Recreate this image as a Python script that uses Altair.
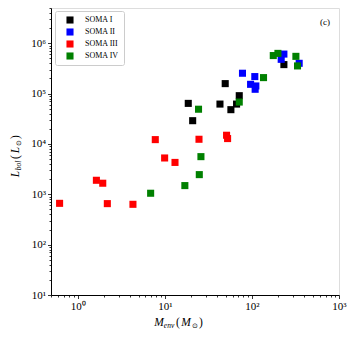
import altair as alt
import pandas as pd

# ---- data ----
soma1_x = [18.6, 20.9, 49.4, 43.0, 57.4, 66.7, 71.6, 233]
soma1_y = [6.4e4, 2.9e4, 1.58e5, 6.2e4, 4.8e4, 6.2e4, 9.1e4, 3.77e5]
soma2_x = [78, 108, 96.6, 111, 109, 217, 233, 349]
soma2_y = [2.54e5, 2.18e5, 1.53e5, 1.42e5, 1.22e5, 4.8e5, 6.1e5, 4.0e5]
soma3_x = [0.62, 1.64, 1.94, 2.19, 4.31, 7.78, 9.96, 13.1, 24.7, 51.2, 52.6]
soma3_y = [662, 1900, 1660, 653, 633, 1.22e4, 5270, 4300, 1.24e4, 1.49e4, 1.28e4]
soma4_x = [6.88, 17.0, 24.9, 26.0, 24.4, 71.6, 136, 176, 199, 320, 334]
soma4_y = [1050, 1490, 2460, 5600, 4.9e4, 6.8e4, 2.08e5, 5.7e5, 6.3e5, 5.5e5, 3.55e5]

groups = ["SOMA I", "SOMA II", "SOMA III", "SOMA IV"]
colors = ["#000000", "#0000ff", "#ff0000", "#008000"]

x_major = [1, 10, 100, 1000]
x_minor = [0.5, 0.6, 0.7, 0.8, 0.9] + [m * d for d in (1, 10, 100) for m in range(2, 10)]
y_major = [10, 100, 1000, 1e4, 1e5, 1e6]
y_minor = [m * d for d in (10, 100, 1000, 1e4, 1e5) for m in range(2, 10)] + [2e6, 3e6, 4e6, 5e6]

rows = []
for g, xs, ys in zip(groups, [soma1_x, soma2_x, soma3_x, soma4_x], [soma1_y, soma2_y, soma3_y, soma4_y]):
    for a, b in zip(xs, ys):
        rows.append({"group": g, "Menv": a, "Lbol": b})
df = pd.DataFrame(rows)
df["order"] = df["group"].map({g: i for i, g in enumerate(groups)})

W, H = 288, 287
SERIF = "Liberation Serif"

is_major = "abs(log(datum.value)/LN10 - round(log(datum.value)/LN10)) < 1e-6"
sup = "['⁰','¹','²','³','⁴','⁵','⁶','⁷']"
label_expr = f"({is_major}) ? '10' + {sup}[round(log(datum.value)/LN10)] : ''"

def axis(orient):
    vals = (x_major + x_minor) if orient == "bottom" else (y_major + y_minor)
    return alt.Axis(
        orient=orient, values=vals, labelExpr=label_expr, title=None, grid=False,
        tickSize={"condition": {"test": is_major, "value": 3.5}, "value": 2},
        tickColor="black", domainColor="black", tickWidth=0.8, domainWidth=1,
        labelFont=SERIF, labelFontSize=11, labelColor="black",
        labelFlush=False, labelOverlap=False, labelPadding=2,
    )

points = alt.Chart(df).mark_point(shape="square", filled=True, size=50, opacity=1).encode(
    x=alt.X("Menv:Q", scale=alt.Scale(type="log", domain=[0.494, 1000], nice=False), axis=axis("bottom")),
    y=alt.Y("Lbol:Q", scale=alt.Scale(type="log", domain=[10, 5.02e6], nice=False), axis=axis("left")),
    color=alt.Color("group:N", scale=alt.Scale(domain=groups, range=colors),
                    legend=alt.Legend(
                        title=None, orient="none", legendX=4, legendY=3,
                        symbolType="square", symbolSize=50, symbolStrokeWidth=0,
                        labelFont=SERIF, labelFontSize=8, labelColor="black",
                        padding=5, rowPadding=4, symbolOffset=6, labelOffset=11,
                        strokeColor="#cccccc", fillColor="white", cornerRadius=2,
                    )),
    order=alt.Order("order:Q"),
)

def txt(s, x, y, size=11, italic=False, angle=0):
    return alt.Chart(pd.DataFrame({"t": [s]})).mark_text(
        text=s, font=SERIF, fontSize=size, fontStyle="italic" if italic else "normal",
        color="black", align="center", baseline="middle", angle=angle,
    ).encode(x=alt.value(x), y=alt.value(y))

ty = 315
xt = [
    txt("M", 108, ty, 11.5, True),
    txt("env", 118, ty + 3, 7.5, True),
    txt("(", 127, ty, 11.5),
    txt("M", 135, ty, 11.5, True),
    txt("⊙", 144, ty + 3, 7),
    txt(")", 150, ty, 11.5),
]
tx = -35
yt = [
    txt("L", tx, 166, 11.5, True, 270),
    txt("bol", tx + 3, 157.5, 7.5, True, 270),
    txt("(", tx, 149, 11.5, False, 270),
    txt("L", tx, 142, 11.5, True, 270),
    txt("⊙", tx + 3, 135, 7, False, 270),
    txt(")", tx, 129, 11.5, False, 270),
]
panel = txt("(c)", 274, 14, 9)

chart = alt.layer(points, *xt, *yt, panel).properties(
    width=W, height=H,
    padding={"left": 43, "top": 0, "right": 10, "bottom": 35},
    autosize=alt.AutoSizeParams(type="none"),
).configure_view(stroke="black", strokeWidth=1).configure(background="white")

chart.save("out.html", embed_options={"renderer": "svg", "actions": False})
